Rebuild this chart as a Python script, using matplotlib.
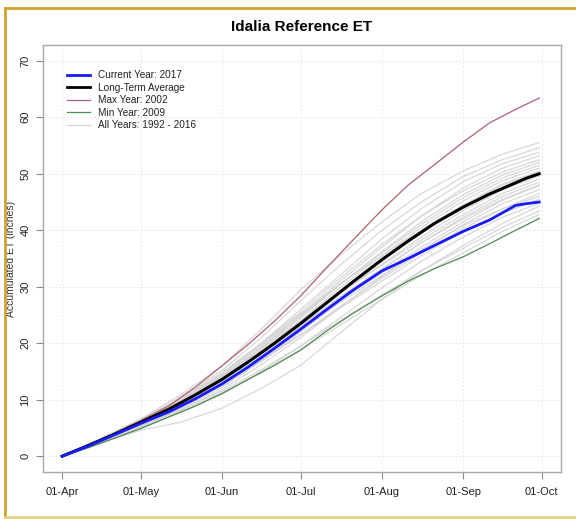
import numpy as np
import matplotlib
matplotlib.use("Agg")
import matplotlib.pyplot as plt
import matplotlib.dates as mdates
from matplotlib.lines import Line2D

plt.rcParams['font.family'] = ['Liberation Sans', 'DejaVu Sans']

# ---------------- data ----------------
season_start = np.datetime64('2017-04-01')

main_days = [0, 10, 20, 30, 41, 51, 61, 71, 81, 91, 101, 111, 122, 132, 142, 153, 163, 173, 177, 182]

current_2017 = [0, 1.8, 3.8, 5.8, 7.9, 10.2, 12.8, 15.8, 19.1, 22.5, 26.0, 29.4, 32.8, 35.0, 37.3, 39.8, 41.8, 44.4, 44.7, 45.0]
long_term_avg = [0, 1.9, 3.9, 6.0, 8.4, 10.9, 13.6, 16.7, 20.0, 23.5, 27.2, 30.9, 34.8, 38.1, 41.2, 44.1, 46.4, 48.4, 49.2, 50.0]
max_2002 = [0, 2.0, 4.1, 6.3, 9.0, 12.3, 16.0, 19.8, 23.9, 28.4, 33.4, 38.3, 43.6, 48.0, 51.6, 55.6, 59.0, 61.4, 62.3, 63.4]
min_2009 = [0, 1.5, 3.2, 4.9, 7.0, 8.9, 11.1, 13.6, 16.1, 18.8, 22.2, 25.3, 28.4, 31.0, 33.2, 35.3, 37.6, 40.0, 40.9, 42.1]

gray_days = [0, 15, 30, 45, 61, 76, 91, 106, 122, 137, 153, 168, 182]
all_years = [
    [0, 3.2, 6.6, 10.8, 16.0, 22.5, 29.5, 35.5, 41.5, 46.5, 50.5, 53.5, 55.5],
    [0, 3.0, 6.4, 10.4, 15.2, 21.0, 27.5, 33.8, 40.0, 45.0, 49.5, 52.5, 54.6],
    [0, 3.1, 6.5, 10.0, 14.5, 20.0, 26.0, 32.0, 38.5, 43.8, 48.6, 51.8, 53.8],
    [0, 2.9, 6.2, 9.8, 14.2, 19.5, 25.0, 31.0, 37.0, 42.5, 47.5, 51.0, 53.2],
    [0, 3.0, 6.3, 10.2, 14.8, 20.0, 25.5, 31.5, 37.5, 42.5, 47.0, 50.3, 52.5],
    [0, 2.8, 5.9, 9.4, 13.8, 19.0, 24.5, 30.3, 36.2, 41.5, 46.3, 49.8, 52.0],
    [0, 2.9, 6.0, 9.6, 14.0, 19.2, 24.8, 30.5, 36.0, 41.0, 45.8, 49.3, 51.5],
    [0, 2.8, 5.8, 9.2, 13.4, 18.5, 24.0, 29.8, 35.5, 40.5, 45.2, 48.8, 51.0],
    [0, 3.0, 6.2, 9.9, 14.5, 19.8, 25.2, 30.5, 35.5, 40.0, 44.5, 48.2, 50.5],
    [0, 2.7, 5.6, 9.0, 13.0, 17.8, 23.0, 28.8, 34.5, 39.5, 44.3, 48.0, 50.2],
    [0, 2.8, 5.9, 9.3, 13.5, 18.3, 23.5, 28.8, 34.0, 38.8, 43.5, 47.2, 49.6],
    [0, 2.9, 6.1, 9.7, 14.2, 19.0, 24.0, 29.0, 33.8, 38.3, 42.8, 46.5, 49.1],
    [0, 2.6, 5.4, 8.5, 12.2, 16.8, 22.0, 27.5, 33.0, 37.8, 42.3, 46.0, 48.5],
    [0, 2.7, 5.7, 9.0, 13.0, 17.5, 22.5, 27.5, 32.5, 37.0, 41.5, 45.3, 47.9],
    [0, 2.5, 5.2, 8.2, 11.8, 16.2, 21.0, 26.3, 31.8, 36.5, 41.0, 44.7, 47.2],
    [0, 2.6, 5.5, 8.8, 12.5, 16.8, 21.5, 26.5, 31.5, 36.0, 40.3, 43.8, 46.5],
    [0, 2.8, 5.8, 9.0, 12.8, 17.0, 21.5, 26.2, 31.0, 35.5, 39.8, 43.0, 45.5],
    [0, 2.4, 5.0, 7.8, 11.0, 15.0, 19.5, 24.5, 29.8, 34.5, 38.8, 42.3, 44.8],
    [0, 2.4, 4.6, 6.0, 8.5, 12.0, 16.1, 21.8, 27.8, 32.8, 37.3, 41.2, 44.3],
    [0, 2.6, 5.3, 8.3, 11.5, 15.3, 19.5, 24.0, 28.5, 32.8, 36.8, 40.5, 43.4],
    [0, 2.5, 5.1, 8.0, 11.2, 14.8, 18.8, 23.2, 27.8, 32.0, 36.0, 39.8, 42.8],
    [0, 2.7, 5.6, 8.9, 12.6, 17.2, 22.2, 27.2, 32.0, 36.5, 40.8, 43.8, 46.0],
    [0, 2.9, 6.0, 9.4, 13.3, 18.0, 23.0, 28.2, 33.2, 37.8, 42.0, 45.5, 48.0],
]

tick_dates = ['2017-04-01', '2017-05-01', '2017-06-01', '2017-07-01',
              '2017-08-01', '2017-09-01', '2017-10-01']
tick_labels = ['01-Apr', '01-May', '01-Jun', '01-Jul', '01-Aug', '01-Sep', '01-Oct']
y_ticks = [0, 10, 20, 30, 40, 50, 60, 70]

legend_labels = ['Current Year: 2017', 'Long-Term Average', 'Max Year: 2002',
                 'Min Year: 2009', 'All Years: 1992 - 2016']


def to_dates(days):
    return (season_start + np.array(days, dtype='timedelta64[D]')).astype('datetime64[s]').astype(object)


# ---------------- figure ----------------
fig = plt.figure(figsize=(5.76, 5.19), dpi=100)
ax = fig.add_axes([43 / 576, 1 - 472 / 519, (561 - 43) / 576, (472 - 45) / 519])

gx = to_dates(gray_days)
for yr in all_years:
    ax.plot(gx, yr, color='#d4d4d4', lw=0.9, alpha=0.9, zorder=2)

mx = to_dates(main_days)
ax.plot(mx, min_2009, color='#4f8a4f', lw=0.9, zorder=3)
ax.plot(mx, max_2002, color='#b0606e', lw=0.9, zorder=3)
ax.plot(mx, long_term_avg, color='black', lw=2.2, zorder=4)
ax.plot(mx, current_2017, color='#1a1aff', lw=2.0, zorder=5)

# axes limits (R-style 4% expansion)
x0 = np.datetime64('2017-04-01').astype('datetime64[s]').astype(object)
x1 = np.datetime64('2017-10-01').astype('datetime64[s]').astype(object)
span = mdates.date2num(x1) - mdates.date2num(x0)
ax.set_xlim(mdates.date2num(x0) - 0.04 * span, mdates.date2num(x1) + 0.04 * span)
ax.set_ylim(-2.8, 72.8)

ax.set_xticks([mdates.date2num(np.datetime64(d).astype('datetime64[s]').astype(object)) for d in tick_dates])
ax.set_xticklabels(tick_labels, fontsize=8, color='#222222')
ax.set_yticks(y_ticks)
ax.set_yticklabels([str(v) for v in y_ticks], fontsize=8, color='#222222',
                   rotation=90, va='center')

ax.tick_params(axis='both', direction='out', length=5, color='#888888', width=0.8, pad=4)
ax.tick_params(axis='x', pad=6)
for s in ax.spines.values():
    s.set_color('#a8a8a8')
    s.set_linewidth(1.0)

ax.grid(True, color='#e8e8e8', lw=0.7, ls=(0, (2, 2)))
ax.set_axisbelow(True)

ax.set_ylabel('Accumulated ET (inches)', fontsize=7.5, color='#333333')
ax.yaxis.set_label_coords((16 - 43) / 518, 0.5)
ax.set_title('Idalia Reference ET', fontsize=11, fontweight='bold', pad=10)

handles = [
    Line2D([], [], color='#1a1aff', lw=2.0),
    Line2D([], [], color='black', lw=2.0),
    Line2D([], [], color='#b0606e', lw=0.9),
    Line2D([], [], color='#4f8a4f', lw=0.9),
    Line2D([], [], color='#d2d2d2', lw=0.9),
]
leg = ax.legend(handles, legend_labels, loc='upper left', bbox_to_anchor=(0.035, 0.955),
                frameon=False, fontsize=7.2, handlelength=2.3, handletextpad=0.8,
                labelspacing=0.25, borderaxespad=0.2)
for t in leg.get_texts():
    t.set_color('#222222')

# gold border on left, top, bottom
gold = '#d0a42c'
fig.add_artist(Line2D([5 / 576, 5 / 576], [1 - 8 / 519, 1 - 517 / 519], transform=fig.transFigure, color=gold, lw=2))
fig.add_artist(Line2D([5 / 576, 1.0], [1 - 8 / 519, 1 - 8 / 519], transform=fig.transFigure, color=gold, lw=2))
fig.add_artist(Line2D([5 / 576, 1.0], [1 - 517 / 519, 1 - 517 / 519], transform=fig.transFigure, color='#e6cf80', lw=2))

fig.savefig('out.png', dpi=100, facecolor='white')
